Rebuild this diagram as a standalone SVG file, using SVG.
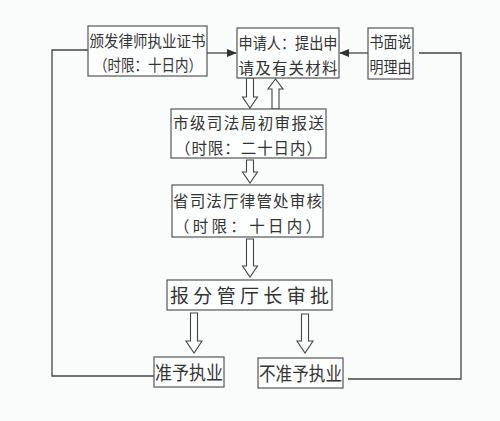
<svg xmlns="http://www.w3.org/2000/svg" width="500" height="421" viewBox="0 0 500 421">
<defs>
<style>
.box{fill:#fdfefe;stroke:#555;stroke-width:1.2}
.ln{fill:none;stroke:#444;stroke-width:1.3}
.ha{fill:#fdfefe;stroke:#444;stroke-width:1.1}
text{font-family:"Noto Sans CJK SC","Noto Sans CJK JP",sans-serif;fill:#333}
.t14{font-size:15.5px}
.t15{font-size:15.5px}
.t18{font-size:19px}
</style>
<marker id="ah" markerWidth="10" markerHeight="8" refX="9" refY="4" orient="auto" markerUnits="userSpaceOnUse">
<path d="M0,0 L10,4 L0,8 z" fill="#333"/>
</marker>
</defs>
<rect width="500" height="421" fill="#fafbfb"/>
<g id="connectors">
<path class="ln" d="M88,50 H52 V376 H154"/>
<path class="ln" d="M207,53 H236" marker-end="url(#ah)"/>
<path class="ln" d="M368,53 H340" marker-end="url(#ah)"/>
<path class="ln" d="M348,379 H461 V53 H419"/>
<polygon class="ha" points="246.5,78 253.5,78 253.5,97 257.5,97 250,108 242.5,97 246.5,97"/>
<polygon class="ha" points="272,109 279,109 279,89 283,89 275.5,79 268,89 272,89"/>
<polygon class="ha" points="246.5,160 253.5,160 253.5,172 257.5,172 250,183 242.5,172 246.5,172"/>
<polygon class="ha" points="246.5,239 253.5,239 253.5,266 257.5,266 250,277 242.5,266 246.5,266"/>
<polygon class="ha" points="190.5,313 197.5,313 197.5,341 202,341 194,353 186,341 190.5,341"/>
<polygon class="ha" points="301.5,314 308.5,314 308.5,341 313,341 305,353 297,341 301.5,341"/>
</g>
<g id="n1">
<rect class="box" x="88" y="26" width="119" height="50"/>
<text class="t14" x="89.5" y="46.5" textLength="116" lengthAdjust="spacingAndGlyphs">颁发律师执业证书</text>
<text class="t14" x="94" y="70.5" textLength="108" lengthAdjust="spacingAndGlyphs">（时限：十日内）</text>
</g>
<g id="n2">
<rect class="box" x="237" y="28" width="102" height="50"/>
<text class="t14" x="238.5" y="48.5" textLength="99" lengthAdjust="spacingAndGlyphs">申请人：提出申</text>
<text class="t14" x="238.5" y="73.5" textLength="99" lengthAdjust="spacing">请及有关材料</text>
</g>
<g id="n3">
<rect class="box" x="368" y="28" width="45" height="51"/>
<text class="t14" x="369.5" y="47.5" textLength="42" lengthAdjust="spacingAndGlyphs">书面说</text>
<text class="t14" x="369.5" y="72.5" textLength="42" lengthAdjust="spacingAndGlyphs">明理由</text>
</g>
<g id="n4">
<rect class="box" x="171" y="109" width="155" height="49"/>
<text class="t15" x="173" y="128.5" textLength="151" lengthAdjust="spacing">市级司法局初审报送</text>
<text class="t15" x="175" y="153.5" textLength="147" lengthAdjust="spacing">（时限：二十日内）</text>
</g>
<g id="n5">
<rect class="box" x="172" y="185" width="151" height="52"/>
<text class="t15" x="173" y="206.5" textLength="149" lengthAdjust="spacing">省司法厅律管处审核</text>
<text class="t15" x="174" y="231.5" textLength="147" lengthAdjust="spacing">（时限：十日内）</text>
</g>
<g id="n6">
<rect class="box" x="167" y="280" width="165" height="30"/>
<text class="t18" x="170" y="302.5" textLength="159" lengthAdjust="spacing">报分管厅长审批</text>
</g>
<g id="n7">
<rect class="box" x="154" y="357" width="70" height="30"/>
<text class="t18" x="155" y="379.5" textLength="68" lengthAdjust="spacingAndGlyphs">准予执业</text>
</g>
<g id="n8">
<rect class="box" x="258" y="358" width="85" height="30"/>
<text class="t18" x="259" y="380.5" textLength="83" lengthAdjust="spacingAndGlyphs">不准予执业</text>
</g>
</svg>
